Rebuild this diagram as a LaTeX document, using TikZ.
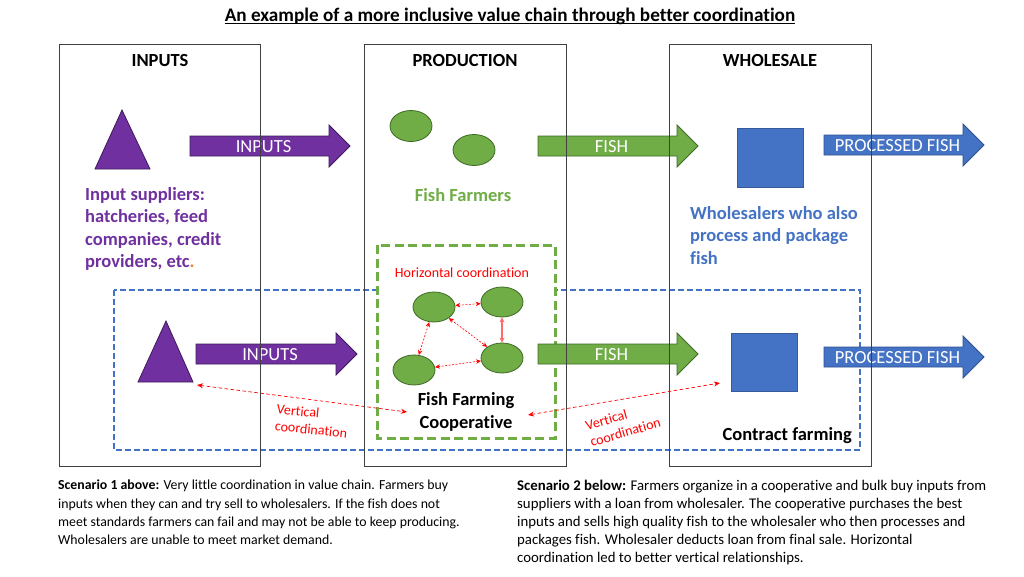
\documentclass[tikz,border=0pt]{standalone}
\usepackage{fontspec}
\setmainfont{Carlito}[Ligatures=NoCommon]
\usetikzlibrary{arrows.meta,shapes.geometric}

\definecolor{cpurple}{HTML}{7030A0}
\definecolor{cpurpledk}{HTML}{3E1A5A}
\definecolor{cgreen}{HTML}{70AD47}
\definecolor{cgreendk}{HTML}{3F6A25}
\definecolor{cblue}{HTML}{4472C4}
\definecolor{cbluedk}{HTML}{2F528F}
\definecolor{cred}{HTML}{FF0000}
\definecolor{cpink}{HTML}{FF6B6B}
\definecolor{corange}{HTML}{ED7D31}
\definecolor{cframe}{HTML}{404040}

\newcommand\blockarrow[6]{%
  \filldraw[fill=#4, draw=#4dk, line width=0.8pt]
    (#1,#3-10) -- (#2-21,#3-10) -- (#2-21,#3-21) -- (#2,#3) -- (#2-21,#3+21)
    -- (#2-21,#3+10) -- (#1,#3+10) -- cycle;
  \node[arrowtext] (#5) at ({(#1+#2-21)/2+4},#3+0.5) {#6};
}

\begin{document}
\begin{tikzpicture}[x=1pt,y=-1pt,
  stagebox/.style={draw=cframe, line width=0.9pt},
  header/.style={font=\fontsize{18.5}{22}\selectfont\bfseries, inner sep=0},
  arrowtext/.style={font=\fontsize{18.5}{22}\selectfont, text=white, inner sep=0},
  fishel/.style={ellipse, draw=cgreendk, fill=cgreen, line width=0.8pt, minimum width=42pt, minimum height=31pt, inner sep=0},
  wsquare/.style={rectangle, fill=cblue, draw=cblue!80!black, line width=0.5pt, inner sep=0},
  redlink/.style={draw=cred, line width=0.6pt, dash pattern=on 2pt off 1.5pt, {Stealth[length=5pt,width=4.5pt]}-{Stealth[length=5pt,width=4.5pt]}},
  vlink/.style={draw=cred, line width=0.7pt, dash pattern=on 3.5pt off 2.5pt, {Stealth[length=6pt,width=5pt]}-{Stealth[length=6pt,width=5pt]}},
  redlabel/.style={font=\fontsize{14}{17}\selectfont, text=cred, inner sep=0, align=left},
  bigtext/.style={font=\fontsize{18.5}{22.5}\selectfont\bfseries, inner sep=0, align=left},
  scen/.style={inner sep=0, align=left, anchor=north west}
]
\useasboundingbox (0,0) rectangle (1024,576);
\fill[white] (0,0) rectangle (1024,576);

% title
\node[font=\fontsize{19.2}{22}\selectfont\bfseries, inner sep=0] (title) at (510,16)
  {An example of a more inclusive value chain through better coordination};
\draw[line width=0.9pt] ([yshift=-2.5pt]title.base west) -- ([yshift=-2.5pt]title.base east);

% scenario 2 frames
\draw[cblue, line width=1.5pt, dash pattern=on 6pt off 3pt] (114,290) rectangle (860,450);
\filldraw[draw=cgreen, fill=white, line width=3pt, dash pattern=on 9pt off 4.5pt] (377,245) rectangle (555,438);

% ---- top row ----
\filldraw[fill=cpurple, draw=cpurpledk, line width=0.8pt] (122,110) -- (150,169) -- (95,169) -- cycle;
\blockarrow{190}{350}{146}{cpurple}{a1}{INPUTS}
\node[fishel] (f1) at (411,126) {};
\node[fishel] (f2) at (474,150) {};
\blockarrow{538}{698}{146}{cgreen}{a2}{FISH}
\node[wsquare, minimum width=66pt, minimum height=59pt] (w1) at (770,157.5) {};
\blockarrow{824}{984}{145}{cblue}{a3}{PROCESSED FISH}

\node[bigtext, text=cpurple, anchor=north west] (supp) at (85,187)
  {Input suppliers:\\hatcheries, feed\\companies, credit\\providers, etc\textcolor{corange}{.}};
\node[bigtext, text=cgreen] (farmers) at (463,195) {Fish Farmers};
\node[bigtext, text=cblue, anchor=north west] (whole) at (690,206)
  {Wholesalers who also\\process and package\\fish};

% ---- bottom row ----
\filldraw[fill=cpurple, draw=cpurpledk, line width=0.8pt] (166,321) -- (193,382) -- (138,382) -- cycle;
\coordinate (tri2) at (197,385);
\blockarrow{196}{357}{354}{cpurple}{a4}{INPUTS}

\node[redlabel] (hc) at (462,273) {Horizontal coordination};
\node[fishel, minimum height=30pt] (e1) at (434,307) {};
\node[fishel, minimum height=30pt] (e2) at (502,302) {};
\node[fishel, minimum height=30pt] (e3) at (414,370) {};
\node[fishel, minimum height=30pt] (e4) at (502,358) {};
\draw[redlink] (e1) -- (e2);
\draw[redlink] (e1) -- (e3);
\draw[redlink] (e1) -- (e4);
\draw[redlink] (e3) -- (e4);
\draw[draw=cpink, line width=1.3pt, {Stealth[length=5pt,width=5pt]}-{Stealth[length=5pt,width=5pt]}] (e2) -- (e4);

\node[bigtext, align=center] (coop) at (466,412) {Fish Farming\\Cooperative};

\blockarrow{538}{698}{354}{cgreen}{a5}{FISH}
\node[wsquare, minimum width=66pt, minimum height=58pt] (w2) at (764,362) {};
\blockarrow{824}{984}{357}{cblue}{a6}{PROCESSED FISH}

\node[bigtext, anchor=east] (contract) at (852,436) {Contract farming};

\coordinate (vl) at (407,412);
\coordinate (vr1) at (528,415);
\coordinate (vr2) at (720,383);
\draw[vlink] (tri2) -- (vl);
\draw[vlink] (vr1) -- (vr2);
\node[redlabel, rotate=-6] (vc1) at (312,421) {Vertical\\coordination};
\node[redlabel, rotate=16] (vc2) at (623,424) {Vertical\\coordination};

% stage boxes
\draw[stagebox] (59,44) rectangle (260,466);
\node[header] (h1) at (160,60) {INPUTS};
\draw[stagebox] (364,44) rectangle (566,466);
\node[header] (h2) at (465,60) {PRODUCTION};
\draw[stagebox] (669,44) rectangle (871,466);
\node[header] (h3) at (770,60) {WHOLESALE};

% scenario texts
\node[scen, font=\fontsize{13.8}{18.3}\selectfont] (s1) at (58,480)
  {\textbf{Scenario 1 above:} Very little coordination in value chain. Farmers buy\\
   inputs when they can and try sell to wholesalers. If the fish does not\\
   meet standards farmers can fail and may not be able to keep producing.\\
   Wholesalers are unable to meet market demand.};
\node[scen, font=\fontsize{14.8}{18}\selectfont] (s2) at (517,480)
  {\textbf{Scenario 2 below:} Farmers organize in a cooperative and bulk buy inputs from\\
   suppliers with a loan from wholesaler. The cooperative purchases the best\\
   inputs and sells high quality fish to the wholesaler who then processes and\\
   packages fish. Wholesaler deducts loan from final sale. Horizontal\\
   coordination led to better vertical relationships.};
\end{tikzpicture}
\end{document}
